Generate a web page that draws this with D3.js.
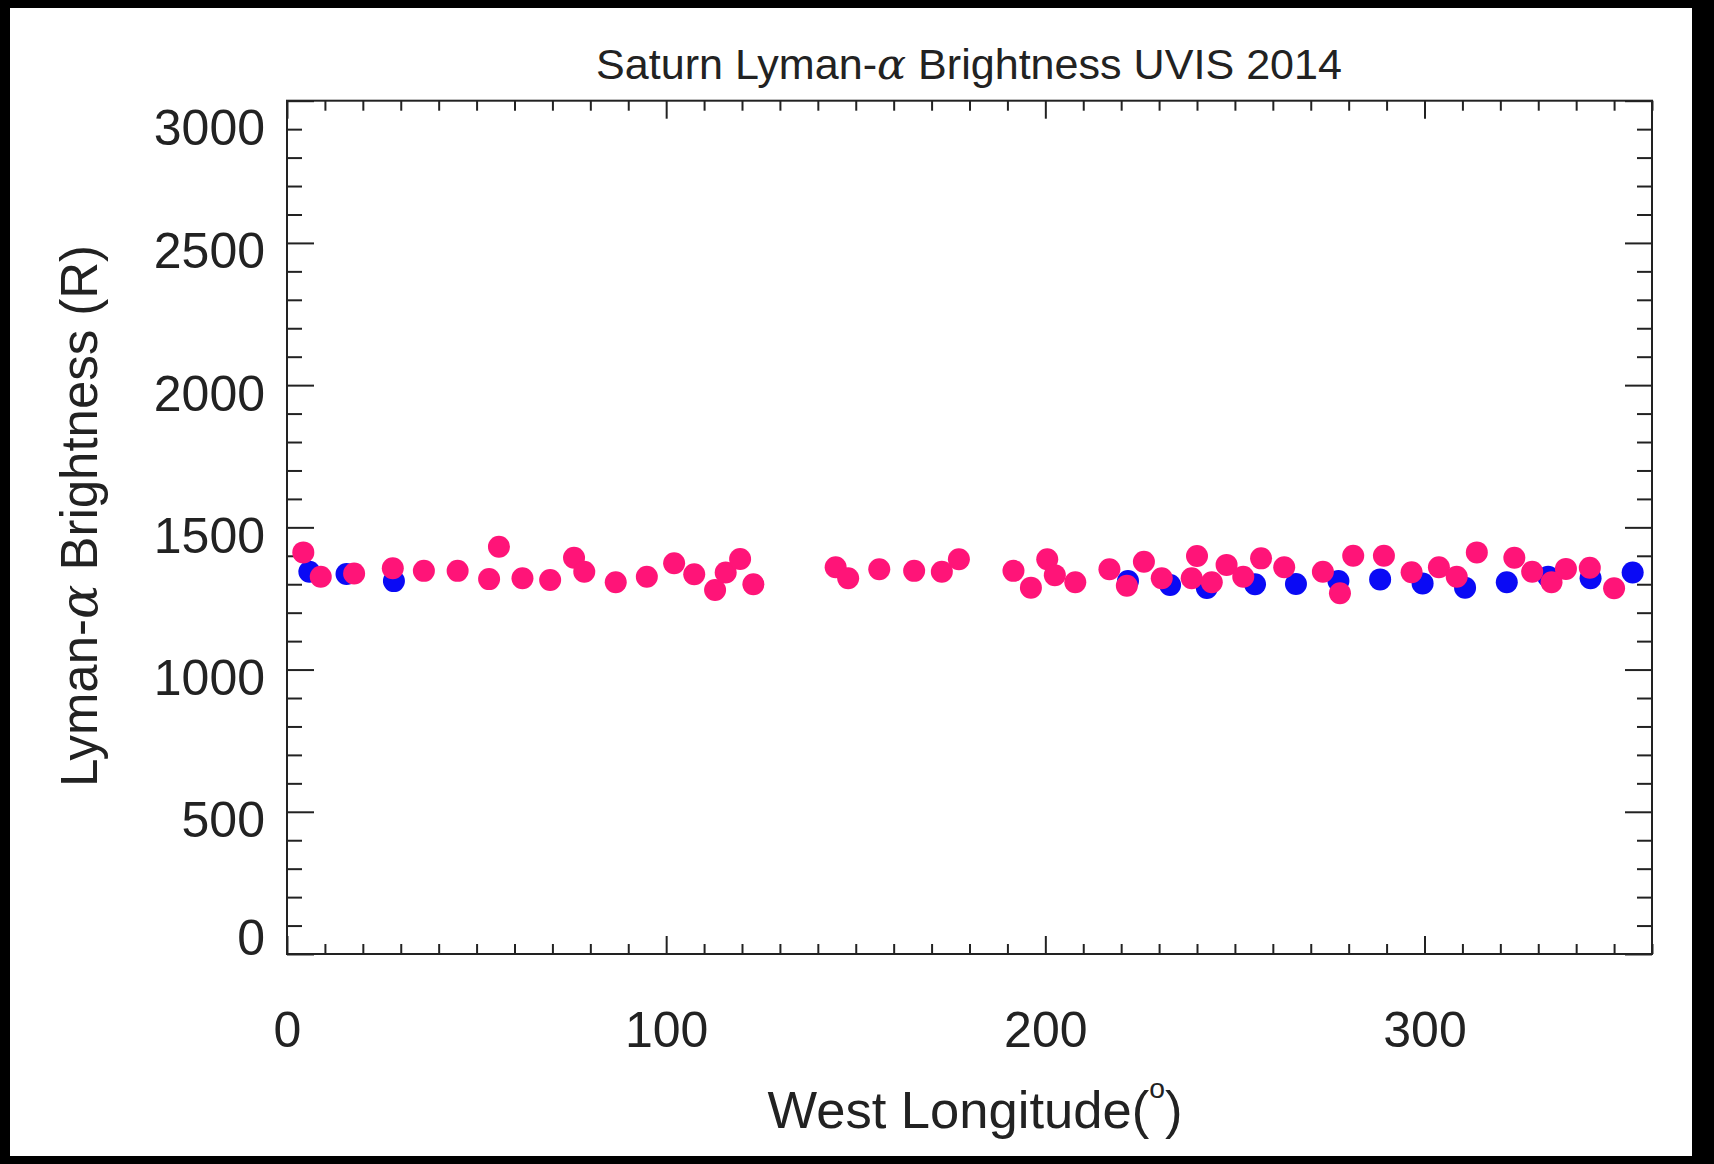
<!DOCTYPE html>
<html>
<head>
<meta charset="utf-8">
<script src="https://cdn.jsdelivr.net/npm/d3@7/dist/d3.min.js"></script>
<style>
  body { margin: 0; background: #000; }
  text { font-family: "Liberation Sans", Arial, Helvetica, sans-serif; fill: #222; }
</style>
</head>
<body>
<div id="chart"></div>
<script>
// longitude / brightness pairs
var pinkLon = [4.3, 8.9, 17.7, 27.9, 36.1, 45.0, 53.3, 55.9, 62.1, 69.4, 75.7, 78.4, 86.7, 94.9,
  102.1, 107.4, 112.9, 115.7, 119.5, 123.0, 144.7, 148.0, 156.2, 165.4, 172.7, 177.2,
  191.6, 196.2, 200.5, 202.5, 207.9, 216.9, 221.5, 226.0, 230.7, 238.6, 240.0, 243.9,
  247.8, 252.2, 256.9, 263.0, 273.2, 277.7, 281.2, 289.3, 296.6, 303.8, 308.5, 313.8,
  323.7, 328.4, 333.5, 337.3, 343.6, 350.0];
var pinkVal = [1412, 1326, 1338, 1356, 1347, 1347, 1318, 1432, 1321, 1315, 1393, 1344, 1307, 1326,
  1374, 1335, 1280, 1341, 1389, 1300, 1360, 1321, 1353, 1347, 1344, 1388,
  1347, 1288, 1388, 1332, 1307, 1353, 1295, 1379, 1321, 1321, 1399, 1307,
  1368, 1326, 1391, 1360, 1344, 1268, 1400, 1400, 1342, 1360, 1326, 1412,
  1393, 1344, 1307, 1354, 1358, 1286];

var blueLon = [5.9, 15.7, 28.2, 221.8, 232.9, 242.6, 255.3, 266.1, 277.3, 288.3, 299.5,
  310.7, 321.7, 332.6, 343.8, 354.9];
var blueVal = [1344, 1336, 1311, 1311, 1297, 1287, 1300, 1301, 1311, 1317, 1303,
  1288, 1307, 1326, 1321, 1341];

var xMajor = [0, 100, 200, 300];
var yMajor = [0, 500, 1000, 1500, 2000, 2500, 3000];

var width = 1714;
var height = 1164;
//plot frame (window.top is taken, so prefixed names)
var pLeft = 287, pRight = 1652, pTop = 100.7, pBottom = 954;

var svg = d3.select("#chart")
  .append("svg")
  .attr("width", width)
  .attr("height", height);

//white page inside the black border
svg.append("rect")
  .attr("x", 10).attr("y", 8)
  .attr("width", 1682).attr("height", 1148)
  .attr("fill", "#fff");

var x = d3.scaleLinear().domain([0, 360]).range([pLeft, pRight]);
var y = d3.scaleLinear().domain([0, 3000]).range([pBottom, pTop]);

var xMinor = d3.range(0, 361, 10).filter(function(d) { return d % 100 != 0; });
var yMinor = d3.range(0, 3001, 100).filter(function(d) { return d % 500 != 0; });

function styleAxis(g) {
  g.select(".domain").remove();
  g.selectAll("line").attr("stroke", "#222").attr("stroke-width", 2);
}

//bottom axis with labels
var gx = svg.append("g")
  .attr("transform", "translate(0," + pBottom + ")")
  .call(d3.axisBottom(x).tickValues(xMajor).tickSize(-18).tickFormat(d3.format("d")))
  .call(styleAxis);
gx.selectAll("text")
  .attr("y", 93).attr("dy", null)
  .attr("font-size", 50);
svg.append("g")
  .attr("transform", "translate(0," + pBottom + ")")
  .call(d3.axisBottom(x).tickValues(xMinor).tickSize(-10).tickFormat(""))
  .call(styleAxis);

//top axis, ticks only
svg.append("g")
  .attr("transform", "translate(0," + pTop + ")")
  .call(d3.axisTop(x).tickValues(xMajor).tickSize(-18).tickFormat(""))
  .call(styleAxis);
svg.append("g")
  .attr("transform", "translate(0," + pTop + ")")
  .call(d3.axisTop(x).tickValues(xMinor).tickSize(-10).tickFormat(""))
  .call(styleAxis);

//left axis with labels
var gy = svg.append("g")
  .attr("transform", "translate(" + pLeft + ",0)")
  .call(d3.axisLeft(y).tickValues(yMajor).tickSize(-27).tickPadding(22).tickFormat(d3.format("d")))
  .call(styleAxis);
gy.selectAll("text")
  .attr("dy", null)
  .attr("font-size", 50)
  .attr("y", function(d) {
    var off = 25;
    off = Math.max(off, pTop + 44 - y(d));
    off = Math.min(off, pBottom - y(d));
    return off;
  });
svg.append("g")
  .attr("transform", "translate(" + pLeft + ",0)")
  .call(d3.axisLeft(y).tickValues(yMinor).tickSize(-15).tickFormat(""))
  .call(styleAxis);

//right axis, ticks only
svg.append("g")
  .attr("transform", "translate(" + pRight + ",0)")
  .call(d3.axisRight(y).tickValues(yMajor).tickSize(-27).tickFormat(""))
  .call(styleAxis);
svg.append("g")
  .attr("transform", "translate(" + pRight + ",0)")
  .call(d3.axisRight(y).tickValues(yMinor).tickSize(-15).tickFormat(""))
  .call(styleAxis);

//frame
svg.append("rect")
  .attr("x", pLeft).attr("y", pTop)
  .attr("width", pRight - pLeft).attr("height", pBottom - pTop)
  .attr("fill", "none")
  .attr("stroke", "#222")
  .attr("stroke-width", 2);

//points: blue first, pink on top
svg.append("g").selectAll("circle")
  .data(d3.zip(blueLon, blueVal))
  .enter().append("circle")
  .attr("cx", function(d) { return x(d[0]); })
  .attr("cy", function(d) { return y(d[1]); })
  .attr("r", 11)
  .attr("fill", "#0a0af5");

svg.append("g").selectAll("circle")
  .data(d3.zip(pinkLon, pinkVal))
  .enter().append("circle")
  .attr("cx", function(d) { return x(d[0]); })
  .attr("cy", function(d) { return y(d[1]); })
  .attr("r", 11)
  .attr("fill", "#ff1478");

//title
var title = svg.append("text")
  .attr("x", 969).attr("y", 79)
  .attr("text-anchor", "middle")
  .attr("font-size", 42)
  .attr("textLength", 746)
  .attr("lengthAdjust", "spacingAndGlyphs");
title.append("tspan").text("Saturn Lyman-");
title.append("tspan").attr("font-family", "DejaVu Serif").attr("font-style", "italic").text("α");
title.append("tspan").text(" Brightness UVIS 2014");

//x axis title
var xt = svg.append("text")
  .attr("x", 975).attr("y", 1128)
  .attr("text-anchor", "middle")
  .attr("font-size", 52)
  .attr("textLength", 415)
  .attr("lengthAdjust", "spacingAndGlyphs");
xt.append("tspan").text("West Longitude(");
xt.append("tspan").attr("font-size", 28).attr("dy", -30).text("o");
xt.append("tspan").attr("dy", 30).text(")");

//y axis title
var yt = svg.append("text")
  .attr("transform", "translate(97,516) rotate(-90)")
  .attr("text-anchor", "middle")
  .attr("font-size", 52)
  .attr("textLength", 542)
  .attr("lengthAdjust", "spacingAndGlyphs");
yt.append("tspan").text("Lyman-");
yt.append("tspan").attr("font-family", "DejaVu Serif").attr("font-style", "italic").text("α");
yt.append("tspan").text(" Brightness (R)");
</script>
</body>
</html>
